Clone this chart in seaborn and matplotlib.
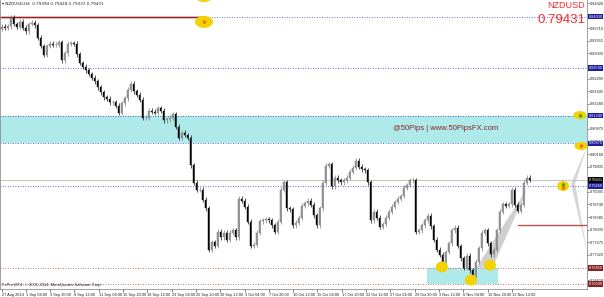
import numpy as np
import pandas as pd
import matplotlib
matplotlib.use("Agg")
import matplotlib.pyplot as plt
from matplotlib.patches import Ellipse, Rectangle, Polygon
import seaborn as sns

sns.set_style("white")
plt.rcParams["font.family"] = ["Liberation Sans", "DejaVu Sans"]

# ---------------- data ----------------
closes = [
    0.8375, 0.8372, 0.8377, 0.8400, 0.8383, 0.8375, 0.8389, 0.8372, 0.8363, 0.8383,
    0.8386, 0.8380, 0.8344, 0.8321, 0.8296, 0.8321, 0.8327, 0.8324, 0.8324, 0.8332,
    0.8281, 0.8301, 0.8327, 0.8329, 0.8327, 0.8298, 0.8273, 0.8262, 0.8253, 0.8242,
    0.8231, 0.8222, 0.8205, 0.8191, 0.8177, 0.8172, 0.8163, 0.8163, 0.8152, 0.8132,
    0.8160, 0.8174, 0.8197, 0.8214, 0.8194, 0.8183, 0.8169, 0.8118, 0.8118, 0.8138,
    0.8135, 0.8132, 0.8146, 0.8138, 0.8112, 0.8115, 0.8118, 0.8129, 0.8093, 0.8062,
    0.8076, 0.8070, 0.8062, 0.7985, 0.7935, 0.7915, 0.7915, 0.7887, 0.7864, 0.7746,
    0.7768, 0.7757, 0.7797, 0.7782, 0.7794, 0.7774, 0.7794, 0.7802, 0.7782, 0.7890,
    0.7884, 0.7867, 0.7825, 0.7757, 0.7760, 0.7794, 0.7827, 0.7830, 0.7833, 0.7830,
    0.7816, 0.7797, 0.7825, 0.7915, 0.7937, 0.7864, 0.7861, 0.7816, 0.7822, 0.7836,
    0.7870, 0.7878, 0.7884, 0.7873, 0.7844, 0.7816, 0.7864, 0.7935, 0.7983, 0.7988,
    0.7926, 0.7949, 0.7943, 0.7937, 0.7943, 0.7949, 0.7966, 0.7977, 0.7997, 0.7980,
    0.7974, 0.7971, 0.7937, 0.7830, 0.7853, 0.7836, 0.7811, 0.7819, 0.7836, 0.7853,
    0.7867, 0.7881, 0.7890, 0.7898, 0.7921, 0.7929, 0.7943, 0.7943, 0.7797, 0.7802,
    0.7816, 0.7830, 0.7842, 0.7813, 0.7774, 0.7746, 0.7732, 0.7712, 0.7740, 0.7765,
    0.7802, 0.7808, 0.7757, 0.7723, 0.7695, 0.7729, 0.7689, 0.7670, 0.7712, 0.7751,
    0.7794, 0.7802, 0.7765, 0.7734, 0.7746, 0.7802, 0.7853, 0.7875, 0.7870, 0.7875,
    0.7915, 0.7873, 0.7856, 0.7873, 0.7935, 0.7949, 0.79431,
]
first_open = 0.8370

date_labels = [
    "27 Aug 2014", "1 Sep 04:00", "3 Sep 20:00", "8 Sep 12:00", "11 Sep 04:00",
    "15 Sep 20:00", "18 Sep 12:00", "23 Sep 04:00", "25 Sep 20:00", "30 Sep 12:00",
    "3 Oct 04:00", "7 Oct 20:00", "10 Oct 12:00", "15 Oct 04:00", "17 Oct 20:00",
    "22 Oct 12:00", "27 Oct 04:00", "29 Oct 20:00", "3 Nov 12:00", "6 Nov 04:00",
    "10 Nov 20:00", "13 Nov 12:00",
]

price_ticks = [
    0.84420, 0.84065, 0.83710, 0.83355, 0.83000, 0.82645, 0.82290, 0.81935,
    0.81580, 0.81225, 0.80870, 0.80515, 0.80160, 0.79805, 0.79450, 0.79095,
    0.78740, 0.78385, 0.78030, 0.77675, 0.77320, 0.76965, 0.76610,
]

resistance_top = 0.8403
blue_levels = [0.8259, 0.8124, 0.8047, 0.7926]
zone_low, zone_high = 0.8047, 0.8124
red_levels = [0.7695, 0.7650]
short_red_level = 0.7816
current_price = 0.79431

# ---------------- figure ----------------
W, H = 604, 297
fig = plt.figure(figsize=(W / 100, H / 100), dpi=100)
fig.patch.set_facecolor("white")
ax = fig.add_axes([0, 8 / H, 587 / W, 289 / H])
ax.set_facecolor("white")

n = len(closes)
df = pd.DataFrame({"bar": np.arange(n), "close": closes})
df["open"] = [first_open] + closes[:-1]
pad = 0.0007
df["high"] = df[["open", "close"]].max(axis=1) + pad
df["low"] = df[["open", "close"]].min(axis=1) - pad
bull = df["close"] >= df["open"]

xmax = 587 / 3 - 0.5
ax.set_xlim(-0.5, xmax)
ax.set_ylim(0.76357, 0.84507)

# cyan zone
ax.axhspan(zone_low, zone_high, color="#aeeaea", zorder=0, lw=0)
# bottom cyan box
ax.add_patch(Rectangle((141.8, 0.7650), 23.7, 0.0045, color="#aeeaea", zorder=0, lw=0))

# grey wedge shapes
ax.add_patch(Polygon([(158.2, 0.7695), (163.8, 0.7698), (175.5, 0.7923)],
                     closed=True, color="#d0d0d0", lw=0, zorder=1))
ax.add_patch(Polygon([(195.2, 0.8039), (189.8, 0.7932), (195.2, 0.7740), (191.2, 0.7932)],
                     closed=True, color="#d6d6d6", lw=0, zorder=1))

# levels
ax.plot([-0.5, 67.5], [resistance_top] * 2, color="#f3c8c8", lw=2.2, zorder=1)
ax.plot([-0.5, 67.5], [resistance_top] * 2, color="#8b2a2a", lw=0.9, zorder=2)
ax.plot([67.5, xmax], [resistance_top] * 2, color="#3a3ac8", lw=0.6,
        linestyle=(0, (1, 2)), zorder=2)
for lv in blue_levels:
    ax.axhline(lv, color="#3a3ac8", lw=0.6, linestyle=(0, (1, 2)), zorder=2)
for lv in red_levels:
    ax.axhline(lv, color="#c84040", lw=0.6, linestyle=(0, (1, 2)), zorder=2)
ax.axhline(current_price, color="#c8c8c8", lw=0.8, zorder=1)
ax.plot([172.3, xmax], [short_red_level] * 2, color="#c05050", lw=1.0, zorder=2)

# candles
ax.vlines(df["bar"], df["low"], df["high"],
          colors=np.where(bull, "#7a7a7a", "#111111"), lw=0.5, zorder=3)
body = (df["close"] - df["open"]).where(lambda s: s.abs() > 0.00008, 0.00008)
ax.bar(df["bar"], body, bottom=df["open"], width=0.65,
       color=np.where(bull, "#a8a8a8", "#000000"),
       edgecolor=np.where(bull, "#6e6e6e", "#000000"), linewidth=0.3, zorder=4)

# yellow markers
ellipses = [
    (67.5, 0.8389, 6.0, 0.0034), (67.5, 0.8462, 6.0, 0.0034),
    (192.8, 0.8126, 4.4, 0.0023), (193.2, 0.8039, 4.4, 0.0023),
    (187.2, 0.7926, 4.0, 0.0028), (146.8, 0.7698, 4.0, 0.0031),
    (156.5, 0.7661, 4.0, 0.0031), (162.8, 0.7703, 4.0, 0.0031),
]
for cx, cy, w, h in ellipses:
    ax.add_patch(Ellipse((cx, cy), w, h, color="#f2d200", zorder=5, lw=0))
ax.plot([192.8, 187.2], [0.8127, 0.7933], marker="^", ms=1.8, ls="none",
        color="#4a9a20", zorder=6)
ax.plot([67.5, 193.2, 187.2], [0.8389, 0.8038, 0.7920], marker="v", ms=1.8, ls="none",
        color="#e87010", zorder=6)

# watermark
ax.text(165.5, 0.8087, "@50Pips | www.50PipsFX.com", color="#8b2525",
        fontsize=5.5, ha="right", va="center", zorder=6)

# axes styling
ax.spines["top"].set_visible(False)
for s in ["left", "right", "bottom"]:
    ax.spines[s].set_color("#909090")
    ax.spines[s].set_linewidth(0.6)

ax.yaxis.tick_right()
ax.set_yticks(price_ticks)
ax.set_yticklabels([f"{v:.5f}" for v in price_ticks])
ax.tick_params(axis="y", labelsize=2.8, length=1.2, width=0.4, pad=0.8,
               colors="#202020", right=True, left=False)

xt = np.arange(len(date_labels)) * 8.1
ax.set_xticks(xt)
ax.set_xticklabels(date_labels, ha="left")
ax.tick_params(axis="x", labelsize=2.8, length=2.5, width=0.4, pad=0.5,
               colors="#202020", bottom=True)
ax.grid(False)

# price boxes on right axis
ytr = ax.get_yaxis_transform()
boxes = [(resistance_top, "#1c1c9c"), (blue_levels[0], "#1c1c9c"), (blue_levels[1], "#1c1c9c"),
         (blue_levels[2], "#1c1c9c"), (blue_levels[3], "#1c1c9c"), (current_price, "#000000"),
         (red_levels[0], "#8b2020"), (red_levels[1], "#8b2020")]
for lv, col in boxes:
    ax.text(1.003, lv, f"{lv:.5f}", transform=ytr, fontsize=2.8, color="white",
            ha="left", va="center", clip_on=False, zorder=10,
            bbox=dict(boxstyle="square,pad=0.15", fc=col, ec="none"))

# texts
fig.text(585 / W, 1 - 6 / H, "NZDUSD", color="#ff2a2a", fontsize=6.5, ha="right", va="center")
fig.text(585 / W, 1 - 20 / H, "0.79431", color="#ff2a2a", fontsize=9.5, ha="right", va="center")
fig.text(2 / W, 1 - 4 / H, "\u25be NZDUSD,H4  0.79394 0.79428 0.79337 0.79431",
         fontsize=3.0, ha="left", va="center", color="#202020",
         family=["DejaVu Sans"])
fig.text(2 / W, 1 - 285 / H, "FxPro MT4, \u00a9 2001-2014, MetaQuotes Software Corp.",
         fontsize=3.0, ha="left", va="center", color="#202020")

fig.savefig("out.png", dpi=100, facecolor="white")
